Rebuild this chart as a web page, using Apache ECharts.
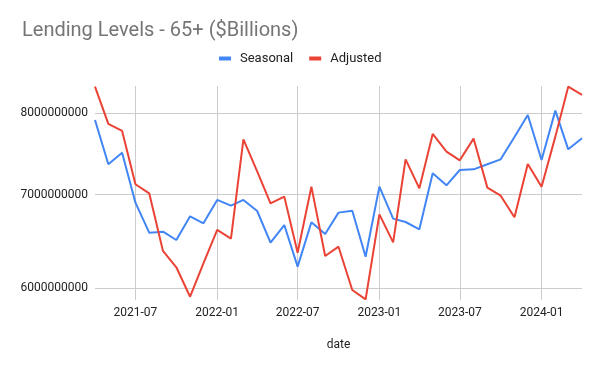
<!DOCTYPE html>
<html>
<head>
<meta charset="utf-8">
<script src="https://cdn.jsdelivr.net/npm/echarts@6/dist/echarts.min.js"></script>
<style>html,body{margin:0;padding:0;background:#fff}#c{width:600px;height:371px}</style>
</head>
<body>
<div id="c"></div>
<script>
const dates = ['2021-04-01','2021-05-01','2021-06-01','2021-07-01','2021-08-01','2021-09-01','2021-10-01','2021-11-01','2021-12-01',
  '2022-01-01','2022-02-01','2022-03-01','2022-04-01','2022-05-01','2022-06-01','2022-07-01','2022-08-01','2022-09-01','2022-10-01','2022-11-01','2022-12-01',
  '2023-01-01','2023-02-01','2023-03-01','2023-04-01','2023-05-01','2023-06-01','2023-07-01','2023-08-01','2023-09-01','2023-10-01','2023-11-01','2023-12-01',
  '2024-01-01','2024-02-01','2024-03-01','2024-04-01'];
const seasonal = [7913000000,7357000000,7499000000,6907000000,6575000000,6586000000,6496000000,6754000000,6677000000,
  6938000000,6873000000,6938000000,6813000000,6468000000,6658000000,6218000000,6688000000,6560000000,6795000000,6817000000,6320000000,
  7091000000,6728000000,6691000000,6611000000,7249000000,7107000000,7288000000,7296000000,7357000000,7417000000,7695000000,7978000000,
  7409000000,8035000000,7540000000,7678000000];
const adjusted = [8358000000,7861000000,7771000000,7119000000,7014000000,6380000000,6211000000,5918000000,6252000000,
  6604000000,6510000000,7665000000,7272000000,6900000000,6976000000,6362000000,7091000000,6327000000,6425000000,5983000000,5892000000,
  6776000000,6471000000,7417000000,7072000000,7733000000,7511000000,7405000000,7674000000,7080000000,6987000000,6743000000,7361000000,
  7091000000,7699000000,8358000000,8245000000];
const yTicks = [6000000000,7000000000,8000000000];
const xTicks = ['2021-07-01','2022-01-01','2022-07-01','2023-01-01','2023-07-01','2024-01-01'];
const titleText = 'Lending Levels - 65+ ($Billions)';
const seriesNames = ['Seasonal','Adjusted'];
const xName = 'date';

const t = d => +new Date(d + 'T00:00:00Z');
const xTickTimes = xTicks.map(t);
const toPairs = vals => dates.map((d, i) => [t(d), vals[i]]);

const chart = echarts.init(document.getElementById('c'), null, {renderer: 'canvas'});
chart.setOption({
  animation: false,
  textStyle: {fontFamily: 'Roboto'},
  title: {
    text: titleText, left: 22, top: 20, padding: 0,
    textStyle: {fontSize: 20, fontWeight: 'normal', color: '#757575', fontFamily: 'Roboto', lineHeight: 22}
  },
  legend: {
    data: seriesNames, left: 219, top: 52, padding: 0,
    icon: 'rect', itemWidth: 12, itemHeight: 4, itemGap: 16,
    textStyle: {fontSize: 13, color: '#222', fontFamily: 'Roboto', padding: [0, 0, 0, 4]}
  },
  grid: {left: 95, right: 18, top: 86, bottom: 71, containLabel: false},
  xAxis: {
    type: 'value',
    min: t(dates[0]),
    max: t(dates[dates.length - 1]),
    name: xName, nameLocation: 'middle', nameGap: 39,
    nameTextStyle: {fontSize: 12, color: '#222', fontFamily: 'Roboto'},
    axisLine: {show: false},
    axisTick: {show: false, customValues: xTickTimes},
    axisLabel: {
      customValues: xTickTimes, fontSize: 12, color: '#222', margin: 7, fontFamily: 'Roboto',
      formatter: v => { const d = new Date(v); return d.getUTCFullYear() + '-' + String(d.getUTCMonth() + 1).padStart(2, '0'); }
    },
    splitLine: {show: true, lineStyle: {color: '#cccccc', width: 1}}
  },
  yAxis: {
    type: 'log', logBase: 10,
    min: 5886000000, max: 8367000000,
    axisLine: {show: false},
    axisTick: {show: false, customValues: yTicks},
    axisLabel: {customValues: yTicks, fontSize: 12, color: '#222', margin: 7, fontFamily: 'Roboto',
      formatter: v => String(Math.round(v))},
    splitLine: {show: true, lineStyle: {color: '#cccccc', width: 1}}
  },
  series: [
    {name: seriesNames[0], type: 'line', data: toPairs(seasonal), showSymbol: false, symbol: 'none',
      lineStyle: {color: '#4285F4', width: 2}, itemStyle: {color: '#4285F4'}},
    {name: seriesNames[1], type: 'line', data: toPairs(adjusted), showSymbol: false, symbol: 'none',
      lineStyle: {color: '#EA4335', width: 2}, itemStyle: {color: '#EA4335'}}
  ]
});
</script>
</body>
</html>
